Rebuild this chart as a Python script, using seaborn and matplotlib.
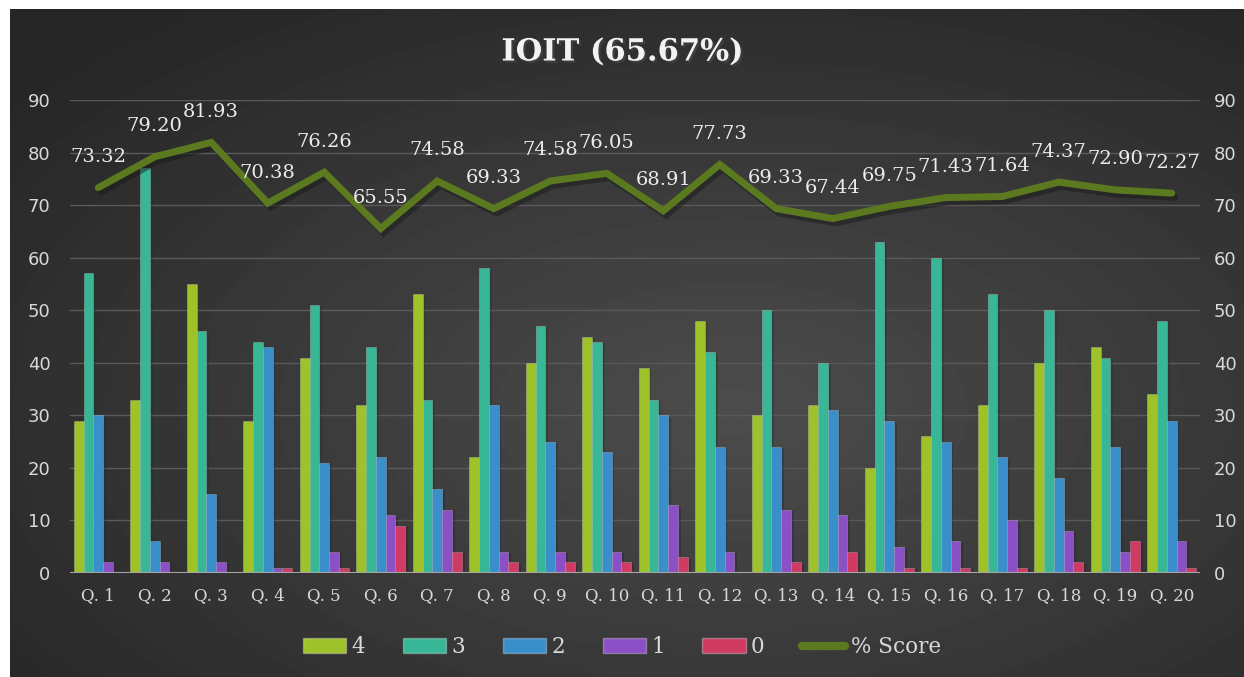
import numpy as np
import pandas as pd
import matplotlib
matplotlib.use("Agg")
import matplotlib.pyplot as plt
import matplotlib.patheffects as pe
from matplotlib.patches import Patch
from matplotlib.lines import Line2D
import seaborn as sns

questions = [f"Q. {i}" for i in range(1, 21)]
s4 = [29, 33, 55, 29, 41, 32, 53, 22, 40, 45, 39, 48, 30, 32, 20, 26, 32, 40, 43, 34]
s3 = [57, 77, 46, 44, 51, 43, 33, 58, 47, 44, 33, 42, 50, 40, 63, 60, 53, 50, 41, 48]
s2 = [30, 6, 15, 43, 21, 22, 16, 32, 25, 23, 30, 24, 24, 31, 29, 25, 22, 18, 24, 29]
s1 = [2, 2, 2, 1, 4, 11, 12, 4, 4, 4, 13, 4, 12, 11, 5, 6, 10, 8, 4, 6]
s0 = [0, 0, 0, 1, 1, 9, 4, 2, 2, 2, 3, 0, 2, 4, 1, 1, 1, 2, 6, 1]
score = [73.32, 79.20, 81.93, 70.38, 76.26, 65.55, 74.58, 69.33, 74.58, 76.05,
         68.91, 77.73, 69.33, 67.44, 69.75, 71.43, 71.64, 74.37, 72.90, 72.27]
series_names = ["4", "3", "2", "1", "0"]
title = "IOIT (65.67%)"

colors = ["#9ec32a", "#38b796", "#3a8fcb", "#8b4fc6", "#cf3b62"]
line_color = "#5b7a1f"
text_color = "#d9d9d9"

df = pd.DataFrame({
    "Question": np.repeat(questions, 5),
    "Level": series_names * len(questions),
    "Count": np.ravel(np.column_stack([s4, s3, s2, s1, s0])),
})

sns.set_theme(style="dark")
plt.rcParams["font.family"] = ["DejaVu Sans"]

W, H = 1244, 677
fig = plt.figure(figsize=(W / 100, H / 100), dpi=100)
fig.patch.set_facecolor("white")

# background panel with gradient (white strip at top/left)
bg = fig.add_axes([10 / W, 0, 1 - 10 / W, 1 - 9 / H])
yy, xx = np.mgrid[0:200, 0:360]
cx, cy = 210, 120
r = np.sqrt(((xx - cx) / 360) ** 2 + ((yy - cy) / 200) ** 2)
val = 0.30 - 0.15 * np.clip(r / 0.75, 0, 1)
bg.imshow(val, cmap="gray", vmin=0, vmax=1, aspect="auto", interpolation="bicubic")
bg.set_axis_off()

ax = fig.add_axes([70 / W, 1 - 573 / H, 1130 / W, (573 - 100) / H])
ax.set_facecolor("none")
sns.barplot(data=df, x="Question", y="Count", hue="Level", hue_order=series_names,
            palette=colors, width=0.87, gap=0, ax=ax, legend=False,
            edgecolor=None, linewidth=0, saturation=1)
for bar in ax.patches:
    bar.set_edgecolor((1, 1, 1, 0.25))
    bar.set_linewidth(0.6)
    bar.set_path_effects([pe.SimplePatchShadow(offset=(2, -1), alpha=0.35), pe.Normal()])

ax.set_ylim(0, 90)
ax.set_xlim(-0.5, 19.5)
ax.set_yticks(range(0, 91, 10))
ax.grid(axis="y", color="#5a5a5a", linewidth=1)
ax.grid(axis="x", visible=False)
ax.set_axisbelow(True)
for s in ax.spines.values():
    s.set_visible(False)
ax.axhline(0, color="#a6a6a6", linewidth=1.5, zorder=3)
ax.set_xlabel("")
ax.set_ylabel("")
ax.tick_params(axis="y", colors=text_color, labelsize=13, length=0, pad=14)
ax.tick_params(axis="x", colors=text_color, labelsize=12, length=0, pad=10)
for lab in ax.get_xticklabels():
    lab.set_family("DejaVu Serif")

ax2 = ax.twinx()
ax2.set_ylim(0, 90)
ax2.set_yticks(range(0, 91, 10))
ax2.tick_params(axis="y", colors=text_color, labelsize=13, length=0, pad=10)
ax2.grid(False)
for s in ax2.spines.values():
    s.set_visible(False)

sns.lineplot(x=np.arange(len(questions)), y=score, ax=ax2, color=line_color,
             linewidth=5, legend=False, solid_joinstyle="miter",
             path_effects=[pe.SimpleLineShadow(offset=(2, -3), alpha=0.5), pe.Normal()])
for i, v in enumerate(score):
    ax2.annotate(f"{v:.2f}", (i, v), xytext=(0, 22), textcoords="offset points",
                 ha="center", va="center", color="#ececec", fontsize=14,
                 family="DejaVu Serif")

fig.text(0.5, 1 - 52 / H, title, ha="center", va="center", color="#f2f2f2",
         fontsize=22, fontweight="bold", family="DejaVu Serif",
         path_effects=[pe.withSimplePatchShadow(offset=(1.5, -1.5), alpha=0.6)])

handles = [Patch(facecolor=c, edgecolor=(1, 1, 1, 0.3), label=n)
           for c, n in zip(colors, series_names)]
handles.append(Line2D([0], [0], color=line_color, linewidth=6,
                      solid_capstyle="round", label="% Score"))
leg = fig.legend(handles=handles, loc="center", bbox_to_anchor=(0.5, 1 - 647 / H),
                 ncol=6, frameon=False, handlelength=2.0,
                 handleheight=0.65, handletextpad=0.25, columnspacing=1.75,
                 prop={"family": "DejaVu Serif", "size": 15.5})
for t in leg.get_texts():
    t.set_color(text_color)

fig.savefig("out.png", dpi=100)
